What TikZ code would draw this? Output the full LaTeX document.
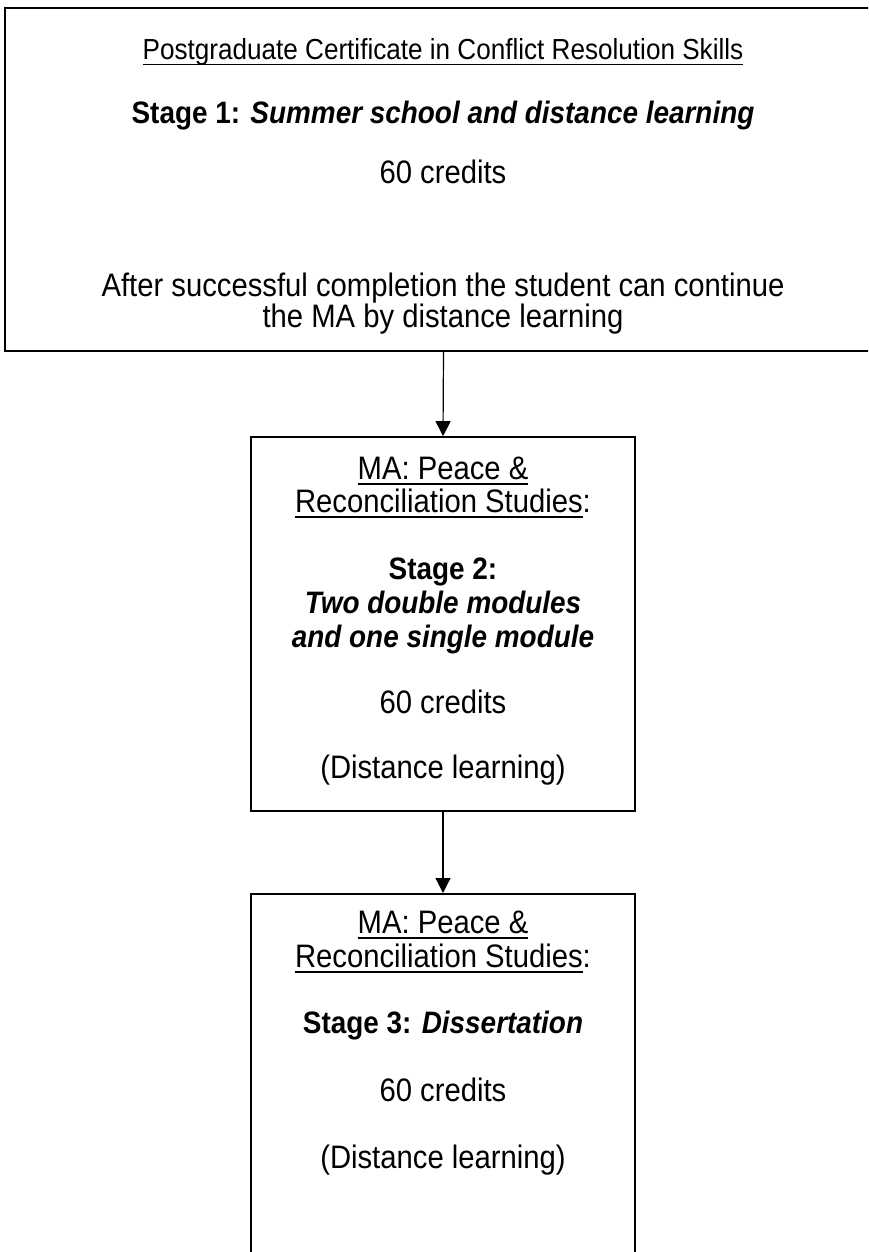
\documentclass[tikz,border=0pt]{standalone}
\usepackage{fontspec}
\setmainfont{Liberation Sans}[FakeStretch=0.9]
\usetikzlibrary{arrows.meta,positioning}

\tikzset{
  box/.style={draw, line width=1.6pt, rectangle, inner sep=0pt},
  txt/.style={anchor=base, inner sep=0pt, font=\fontsize{32.5}{36}\selectfont},
  boldtxt/.style={txt, font=\fontsize{31}{36}\selectfont\bfseries},
  titletxt/.style={txt, font=\fontsize{29}{33}\selectfont},
  link/.style={draw, line width=1.2pt, -{Triangle[length=15pt,width=15pt]}},
}
\newcommand{\undl}[1]{\setbox0\hbox{#1}\rlap{\rule[-5.5pt]{\wd0}{1.8pt}}\box0}

\begin{document}
\begin{tikzpicture}[x=1pt,y=-1pt]
\useasboundingbox (0,0) rectangle (868,1252);
\clip (0,0) rectangle (868,1252);

% the three stages
\node[box, minimum width=877pt, minimum height=343pt] (stage1) at (443.5,179.5) {};
\node[box, minimum width=384pt, minimum height=374pt] (stage2) at (443,624) {};
\node[box, minimum width=384pt, minimum height=420pt, anchor=north] (stage3) at (443,893) {};

% stage 1 text
\node[titletxt] (s1title) at (443,60) {\undl{Postgraduate Certificate in Conflict Resolution Skills}};
\node[boldtxt] (s1name) at (443,124) {Stage 1: \textit{Summer school and distance learning}};
\node[txt] (s1credits) at (443,184) {60 credits};
\node[txt] (s1noteA) at (443,296) {After successful completion the student can continue};
\node[txt] (s1noteB) at (443,327) {the MA by distance learning};

% stage 2 text
\node[txt] (s2titleA) at (443,479) {\undl{MA: Peace \&}};
\node[txt] (s2titleB) at (443,512) {\undl{Reconciliation Studies}:};
\node[boldtxt] (s2name) at (443,579) {Stage 2:};
\node[boldtxt] (s2descA) at (443,613) {\textit{Two double modules}};
\node[boldtxt] (s2descB) at (443,647) {\textit{and one single module}};
\node[txt] (s2credits) at (443,713) {60 credits};
\node[txt] (s2mode) at (443,778) {(Distance learning)};

% stage 3 text
\node[txt] (s3titleA) at (443,933) {\undl{MA: Peace \&}};
\node[txt] (s3titleB) at (443,967) {\undl{Reconciliation Studies}:};
\node[boldtxt] (s3name) at (443,1033) {Stage 3: \textit{Dissertation}};
\node[txt] (s3credits) at (443,1101) {60 credits};
\node[txt] (s3mode) at (443,1168) {(Distance learning)};

\path[link] (stage1.south) -- (stage2.north);
\path[link] (stage2.south) -- (stage3.north);
\end{tikzpicture}
\end{document}
